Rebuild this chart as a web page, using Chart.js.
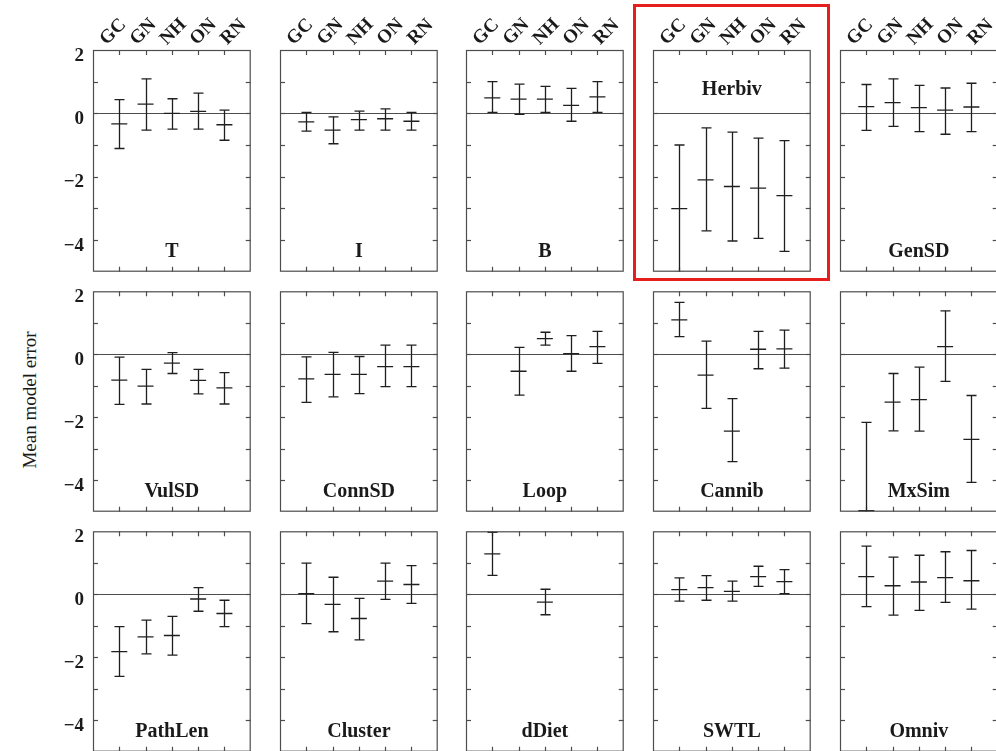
<!DOCTYPE html>
<html>
<head>
<meta charset="utf-8">
<title>Mean model error by metric</title>
<script src="https://cdn.jsdelivr.net/npm/chart.js@4.4.1/dist/chart.umd.min.js"></script>
<style>
  html, body { margin: 0; padding: 0; background: #ffffff; width: 996px; height: 751px; overflow: hidden; }
  #fig { position: relative; width: 996px; height: 751px; overflow: hidden; }
  #fig canvas { position: absolute; }
  #ytitle {
    position: absolute; left: 30px; top: 400px;
    transform: translate(-50%, -50%) rotate(-90deg);
    white-space: nowrap; color: #1a1a1a;
    font: 19px 'Liberation Serif', 'DejaVu Serif', serif;
  }
  #highlight {
    position: absolute; left: 633px; top: 4px; width: 197px; height: 277px;
    box-sizing: border-box; border: 3px solid #e61e1e;
  }
</style>
</head>
<body>
<div id="fig">
  <div id="ytitle">Mean model error</div>
  <div id="highlight"></div>
</div>
<script>
// ---- data -------------------------------------------------------------
const categories = ['GC', 'GN', 'NH', 'ON', 'RN'];
const metrics = ['T', 'I', 'B', 'Herbiv', 'GenSD',
                 'VulSD', 'ConnSD', 'Loop', 'Cannib', 'MxSim',
                 'PathLen', 'Cluster', 'dDiet', 'SWTL', 'Omniv'];
const yTickLabels = [2, 0, -2, -4];

// mean model error per metric (rows) and model (columns); null = not reported
const meanError = [
  [-0.33,  0.29,  0.00,  0.06, -0.36],   // T
  [-0.27, -0.53, -0.20, -0.17, -0.25],   // I
  [ 0.49,  0.45,  0.45,  0.25,  0.52],   // B
  [-3.01, -2.10, -2.31, -2.36, -2.60],   // Herbiv
  [ 0.21,  0.34,  0.18,  0.10,  0.20],   // GenSD
  [-0.82, -1.01, -0.28, -0.83, -1.07],   // VulSD
  [-0.78, -0.64, -0.64, -0.39, -0.39],   // ConnSD
  [ null, -0.54,  0.50,  0.02,  0.24],   // Loop
  [ 1.09, -0.66, -2.44,  0.16,  0.17],   // Cannib
  [-4.97, -1.52, -1.44,  0.24, -2.70],   // MxSim
  [-1.82, -1.35, -1.31, -0.15, -0.61],   // PathLen
  [ 0.02, -0.32, -0.77,  0.42,  0.31],   // Cluster
  [ 1.28,  null, -0.25,  null,  null],   // dDiet
  [ 0.15,  0.21,  0.09,  0.56,  0.40],   // SWTL
  [ 0.56,  0.27,  0.39,  0.53,  0.43]    // Omniv
];
// lower end of each error bar
const lowerBound = [
  [-1.11, -0.53, -0.50, -0.50, -0.85],
  [-0.56, -0.96, -0.53, -0.53, -0.53],
  [ 0.03, -0.03,  0.03, -0.25,  0.03],
  [-5.02, -3.71, -4.03, -3.95, -4.36],
  [-0.54, -0.41, -0.58, -0.66, -0.58],
  [-1.59, -1.58, -0.61, -1.26, -1.58],
  [-1.53, -1.35, -1.25, -1.03, -1.03],
  [ null, -1.30,  0.29, -0.54, -0.29],
  [ 0.56, -1.72, -3.41, -0.46, -0.44],
  [-7.80, -2.43, -2.44, -0.86, -4.07],
  [-2.61, -1.89, -1.93, -0.54, -1.03],
  [-0.93, -1.19, -1.45, -0.16, -0.29],
  [ 0.60,  null, -0.65,  null,  null],
  [-0.22, -0.19, -0.22,  0.25,  0.02],
  [-0.39, -0.66, -0.51, -0.26, -0.47]
];
// upper end of each error bar
const upperBound = [
  [ 0.43,  1.09,  0.46,  0.64,  0.10],
  [ 0.03, -0.11,  0.07,  0.14,  0.03],
  [ 1.00,  0.92,  0.85,  0.79,  1.00],
  [-1.00, -0.46, -0.59, -0.78, -0.86],
  [ 0.91,  1.09,  0.88,  0.80,  0.95],
  [-0.09, -0.48,  0.05, -0.48, -0.58],
  [-0.08,  0.06, -0.07,  0.29,  0.29],
  [ null,  0.22,  0.70,  0.59,  0.73],
  [ 1.65,  0.42, -1.41,  0.73,  0.77],
  [-2.16, -0.61, -0.41,  1.38, -1.31],
  [-1.03, -0.82, -0.70,  0.21, -0.19],
  [ 0.99,  0.54, -0.13,  0.99,  0.91],
  [ 1.97,  null,  0.16,  null,  null],
  [ 0.52,  0.59,  0.42,  0.89,  0.78],
  [ 1.53,  1.18,  1.24,  1.35,  1.39]
];

// ---- layout & style ---------------------------------------------------
const COLS = 5;
const PANEL_W = 159, PANEL_H = 223;
const colLeft = [93, 280, 466, 653, 840];
const rowTop = [50, 290, 530];
const Y_MIN = -5, Y_MAX = 2, X_MIN = 0, X_MAX = 6;
const titleAtTop = new Set(['Herbiv']);
const SERIF = "'Liberation Serif', 'DejaVu Serif', serif";
const FRAME = '#4d4d4d';
const INK = '#1f1f1f';
const TEXT = '#1a1a1a';
const TICK_LEN = 5, CAP_HALF = 5, MEAN_HALF = 8;

function seg(ctx, x1, y1, x2, y2) {
  ctx.beginPath(); ctx.moveTo(x1, y1); ctx.lineTo(x2, y2); ctx.stroke();
}
const crisp = v => Math.round(v) + 0.5;

// Frame, inward ticks, zero line, error whiskers and texts for one panel
const panelDecor = {
  id: 'panelDecor',
  beforeDatasetsDraw(chart, args, opts) {
    const { ctx, chartArea: a, scales: { x, y } } = chart;
    const p = opts.index;
    ctx.save();
    ctx.strokeStyle = FRAME;
    ctx.lineWidth = 1.2;
    seg(ctx, a.left, crisp(y.getPixelForValue(0)), a.right, crisp(y.getPixelForValue(0)));
    for (let v = Y_MIN + 1; v < Y_MAX; v++) {
      const py = crisp(y.getPixelForValue(v));
      seg(ctx, a.left, py, a.left + TICK_LEN, py);
      seg(ctx, a.right - TICK_LEN, py, a.right, py);
    }
    categories.forEach((c, i) => {
      const px = crisp(x.getPixelForValue(i + 1));
      seg(ctx, px, a.top, px, a.top + TICK_LEN);
      seg(ctx, px, a.bottom - TICK_LEN, px, a.bottom);
    });
    // whiskers, clipped to the plotting area
    ctx.beginPath();
    ctx.rect(a.left, a.top, a.right - a.left, a.bottom - a.top);
    ctx.clip();
    ctx.strokeStyle = INK;
    ctx.lineWidth = 1.3;
    categories.forEach((c, i) => {
      const lo = lowerBound[p][i], hi = upperBound[p][i];
      if (lo === null || hi === null) return;
      const px = crisp(x.getPixelForValue(i + 1));
      const yl = y.getPixelForValue(lo), yh = y.getPixelForValue(hi);
      seg(ctx, px, yl, px, yh);
      seg(ctx, px - CAP_HALF, yl, px + CAP_HALF, yl);
      seg(ctx, px - CAP_HALF, yh, px + CAP_HALF, yh);
    });
    ctx.restore();
  },
  afterDraw(chart, args, opts) {
    const { ctx, chartArea: a, scales: { x, y } } = chart;
    const p = opts.index, row = Math.floor(p / COLS), col = p % COLS;
    ctx.save();
    ctx.strokeStyle = FRAME;
    ctx.lineWidth = 1.2;
    ctx.strokeRect(a.left + 0.5, a.top + 0.5, a.right - a.left - 1, a.bottom - a.top - 1);

    ctx.fillStyle = TEXT;
    // panel name
    const name = metrics[p];
    ctx.font = 'bold 20px ' + SERIF;
    ctx.textAlign = 'center';
    ctx.textBaseline = 'alphabetic';
    const level = titleAtTop.has(name) ? 0.8 : -4.3;
    ctx.fillText(name, (a.left + a.right) / 2, y.getPixelForValue(level) + 7);

    // value labels on the first column
    if (col === 0) {
      ctx.font = 'bold 19px ' + SERIF;
      ctx.textAlign = 'right';
      yTickLabels.forEach(v => {
        const txt = v < 0 ? '\u2212' + Math.abs(v) : String(v);
        ctx.fillText(txt, a.left - 9, y.getPixelForValue(v) + 10.5);
      });
    }
    // model names above the first row, set at 45 degrees
    if (row === 0) {
      ctx.font = 'bold 19px ' + SERIF;
      ctx.textAlign = 'center';
      ctx.textBaseline = 'middle';
      categories.forEach((c, i) => {
        const cx = x.getPixelForValue(i + 1) + (i - 2) * 3.8 + 1.5;
        ctx.save();
        ctx.translate(cx, a.top - 18);
        ctx.rotate(-Math.PI / 4);
        ctx.fillText(c, 0, 0);
        ctx.restore();
      });
    }
    ctx.restore();
  }
};

// ---- build the 3 x 5 grid of panels -----------------------------------
const fig = document.getElementById('fig');
metrics.forEach((name, p) => {
  const row = Math.floor(p / COLS), col = p % COLS;
  const padL = col === 0 ? 93 : 10;
  const padT = row === 0 ? 50 : 8;
  const padR = 8, padB = 8;
  const cv = document.createElement('canvas');
  cv.width = padL + PANEL_W + padR;
  cv.height = padT + PANEL_H + padB;
  cv.style.width = cv.width + 'px';
  cv.style.height = cv.height + 'px';
  cv.style.left = (colLeft[col] - padL) + 'px';
  cv.style.top = (rowTop[row] - padT) + 'px';
  fig.appendChild(cv);

  const points = [];
  categories.forEach((c, i) => {
    if (meanError[p][i] !== null) points.push({ x: i + 1, y: meanError[p][i] });
  });

  new Chart(cv, {
    type: 'scatter',
    data: {
      datasets: [{
        label: name,
        data: points,
        pointStyle: 'line',
        pointRadius: MEAN_HALF,
        pointHoverRadius: MEAN_HALF,
        pointBorderWidth: 1.3,
        borderColor: INK,
        backgroundColor: INK,
        showLine: false,
        clip: 0
      }]
    },
    options: {
      responsive: false,
      animation: false,
      devicePixelRatio: 1,
      events: [],
      layout: { padding: { left: padL, top: padT, right: padR, bottom: padB } },
      plugins: {
        legend: { display: false },
        tooltip: { enabled: false },
        panelDecor: { index: p }
      },
      scales: {
        x: { type: 'linear', min: X_MIN, max: X_MAX, display: false },
        y: { type: 'linear', min: Y_MIN, max: Y_MAX, display: false }
      }
    },
    plugins: [panelDecor]
  });
});
</script>
</body>
</html>
